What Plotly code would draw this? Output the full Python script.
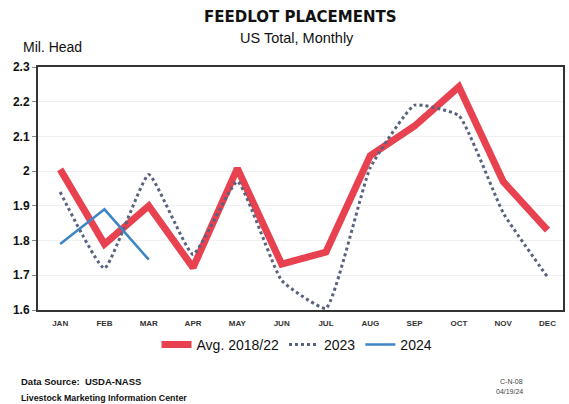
import plotly.graph_objects as go

months = ["JAN", "FEB", "MAR", "APR", "MAY", "JUN", "JUL", "AUG", "SEP", "OCT", "NOV", "DEC"]
avg_2018_22 = [2.005, 1.79, 1.90, 1.722, 2.008, 1.732, 1.767, 2.045, 2.13, 2.243, 1.97, 1.83]
y2023 = [1.94, 1.72, 1.99, 1.76, 1.97, 1.685, 1.605, 2.01, 2.19, 2.16, 1.88, 1.695]
y2024 = [1.79, 1.89, 1.745]
y_ticks = [1.6, 1.7, 1.8, 1.9, 2.0, 2.1, 2.2, 2.3]
y_tick_text = ["1.6", "1.7", "1.8", "1.9", "2", "2.1", "2.2", "2.3"]

fig = go.Figure()
fig.add_trace(go.Scatter(x=months, y=avg_2018_22, mode="lines", name="Avg. 2018/22",
                         line=dict(color="#e8414f", width=7)))
fig.add_trace(go.Scatter(x=months, y=y2023, mode="lines", name="2023",
                         line=dict(color="#59627e", width=3, dash="dot", shape="spline", smoothing=0.4)))
fig.add_trace(go.Scatter(x=months[:len(y2024)], y=y2024, mode="lines", name="2024",
                         line=dict(color="#3d85c6", width=2.5)))

plot_l, plot_r, plot_t, plot_b = 38, 565, 67, 310
W, H = 569, 404
pw, ph = plot_r - plot_l, plot_b - plot_t


def px(x):
    return (x - plot_l) / pw


def py(y):
    return (plot_b - y) / ph


texts = [
    ("<b>FEEDLOT PLACEMENTS</b>", 302, 17, "center", 15, "#111", "DejaVu Sans"),
    ("US Total, Monthly", 298, 38, "center", 14.5, "#111", "Liberation Sans"),
    ("Mil. Head", 21, 47, "left", 14, "#111", "Liberation Sans"),
    ("<b>Data Source:  USDA-NASS</b>", 19, 381, "left", 9.5, "#111", "Liberation Sans"),
    ("<b>Livestock Marketing Information Center</b>", 19, 398, "left", 8.8, "#111", "Liberation Sans"),
    ("C-N-08", 513, 381, "center", 7, "#444", "Liberation Sans"),
    ("04/19/24", 511, 391, "center", 7, "#444", "Liberation Sans"),
]
annotations = [
    dict(text=t, x=px(x), y=py(y), xref="paper", yref="paper", xanchor=anc, yanchor="middle",
         showarrow=False, font=dict(size=s, color=c, family=f))
    for t, x, y, anc, s, c, f in texts
]

fig.update_layout(
    width=W, height=H,
    margin=dict(l=plot_l, r=W - plot_r, t=plot_t, b=H - plot_b),
    paper_bgcolor="white", plot_bgcolor="white",
    font=dict(family="Liberation Sans, Arial, sans-serif", color="#222"),
    showlegend=True,
    legend=dict(orientation="h", x=px(298), xanchor="center", y=py(345), yanchor="middle",
                font=dict(size=14, family="Liberation Sans, Arial", color="#111"),
                itemwidth=30, traceorder="normal"),
    annotations=annotations,
)

fig.update_xaxes(range=[-0.5, 11.35], showline=True, linecolor="#333", linewidth=2, mirror=True,
                 showgrid=False, ticks="outside", ticklen=4, tickcolor="rgba(0,0,0,0)",
                 tickfont=dict(size=8, color="#333", family="Liberation Sans Narrow, Liberation Sans"),
                 tickprefix="<b>", ticksuffix="</b>")
fig.update_yaxes(range=[1.6, 2.3], tickvals=y_ticks, ticktext=["<b>%s</b>" % t for t in y_tick_text],
                 showline=True, linecolor="#333", linewidth=2, mirror=True,
                 showgrid=True, gridcolor="#f0f0f0", gridwidth=1, zeroline=False,
                 ticks="outside", ticklen=4, tickcolor="#888", tickfont=dict(size=12, color="#111"))

fig.write_html("out.html", config={"displayModeBar": False},
               post_script="document.body.style.margin='0';")
